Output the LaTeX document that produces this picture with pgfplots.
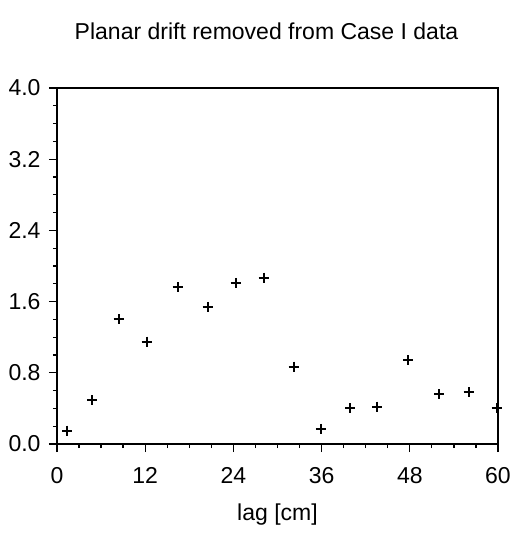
\documentclass[border=0pt]{standalone}
\usepackage{pgfplots}
\pgfplotsset{compat=1.18}
\usepackage{fontspec}
\setmainfont{Liberation Sans}
\begin{document}
\begin{tikzpicture}
\fontsize{23}{26}\selectfont
\begin{axis}[
  scale only axis,
  width=441pt, height=356pt,
  xmin=0, xmax=60, ymin=0, ymax=4.0,
  xtick={0,12,24,36,48,60},
  ytick={0,0.8,1.6,2.4,3.2,4.0},
  minor x tick num=3,
  minor y tick num=3,
  tick pos=left,
  tick align=outside,
  major tick length=8pt,
  minor tick length=4pt,
  line width=1.6pt,
  every tick/.style={line width=1.3pt, black},
  /pgf/number format/assume math mode=true,
  yticklabel style={/pgf/number format/fixed, /pgf/number format/fixed zerofill, /pgf/number format/precision=1, font=\fontsize{23}{26}\selectfont},
  xticklabel style={font=\fontsize{23}{26}\selectfont, yshift=-7pt},
  xlabel={lag [cm]},
  xlabel style={font=\fontsize{23}{26}\selectfont, yshift=-4pt},
  title={Planar drift removed from Case I data},
  title style={font=\fontsize{23}{26}\selectfont, at={(0.5,1)}, anchor=base, yshift=42pt, xshift=-11pt},
]
\addplot[only marks, mark=+, mark size=5pt, line width=2pt, black] coordinates {
(1.4,0.15) (4.8,0.49) (8.4,1.40) (12.2,1.15) (16.4,1.76) (20.5,1.54)
(24.3,1.81) (28.1,1.87) (32.2,0.87) (35.9,0.17) (39.9,0.40) (43.6,0.42)
(47.8,0.94) (52.0,0.56) (56.0,0.58) (59.8,0.40)
};
\end{axis}
\path[use as bounding box] (-57pt,-94pt) rectangle (474pt,444pt);
\end{tikzpicture}
\end{document}
